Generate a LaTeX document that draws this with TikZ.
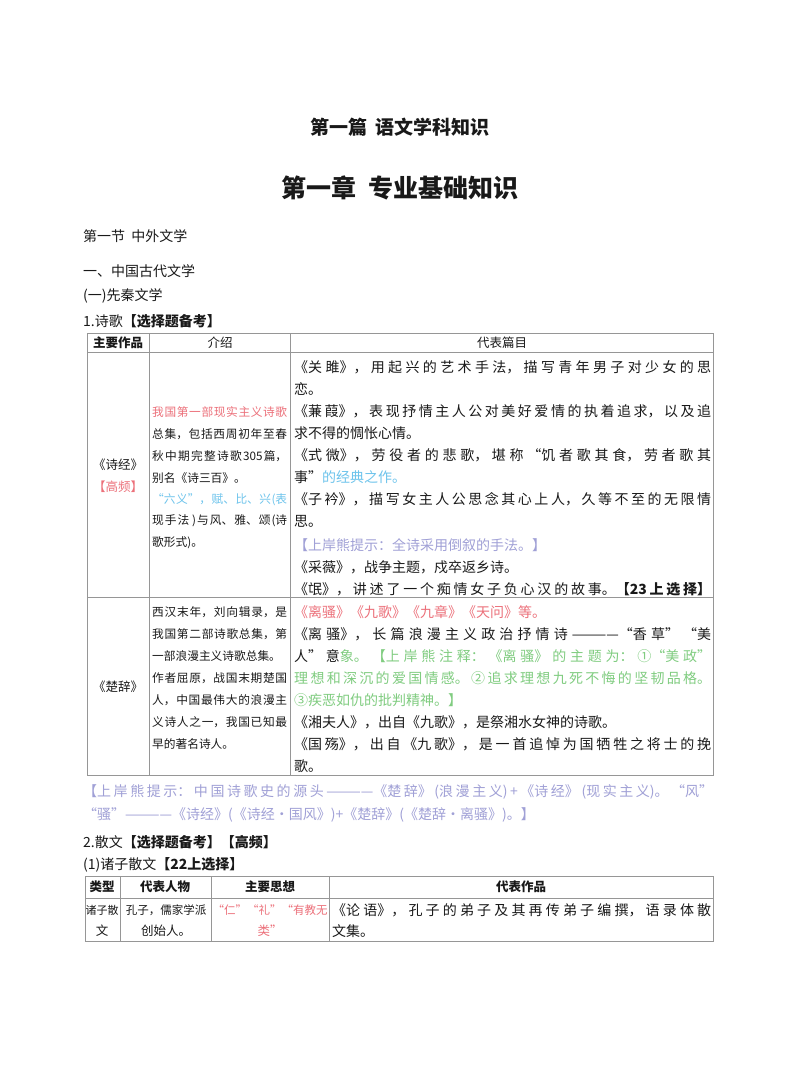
\documentclass[tikz,border=0pt]{standalone}
\usepackage{fontspec}
\newfontfamily\cjk{Noto Sans CJK SC}
\definecolor{tred}{RGB}{236,112,122}
\definecolor{tblue}{RGB}{110,196,236}
\definecolor{tlav}{RGB}{160,160,214}
\definecolor{tgreen}{RGB}{128,204,128}
\definecolor{ink}{RGB}{25,25,25}
\definecolor{rule}{RGB}{150,150,150}
\newcommand\JL[2]{\parbox{#1}{\XeTeXlinebreaklocale "zh"\XeTeXlinebreakskip=0pt plus 20pt\parfillskip=0pt\hbadness=10000\noindent #2}}
\begin{document}
\begin{tikzpicture}[x=1pt,y=-1pt,
  t/.style={anchor=west,inner sep=0,text=ink,font=\cjk\fontsize{14}{14}\selectfont},
  s/.style={anchor=west,inner sep=0,text=ink,font=\cjk\fontsize{11.7}{13}\selectfont},
  c/.style={anchor=center,inner sep=0,text=ink,font=\cjk\fontsize{12.5}{14}\selectfont},
  hd/.style={c,font=\cjk\bfseries\fontsize{12.5}{14}\selectfont},
  ln/.style={draw=rule,line width=0.6pt}]
\useasboundingbox (0,0) rectangle (800,1078);
\fill[white] (0,0) rectangle (800,1078);
\node[c,font=\cjk\bfseries\fontsize{19}{20}\selectfont] (t1) at (400,127) {第一篇\ \ 语文学科知识};
\node[c,font=\cjk\bfseries\fontsize{25}{26}\selectfont] (t2) at (400,188) {第一章\ \ 专业基础知识};
\node[t] (h1) at (83,236) {第一节\ \ 中外文学};
\node[t] (h2) at (83,271) {一、中国古代文学};
\node[t] (h3) at (83,296) {(一)先秦文学};
\node[t] (h4) at (83,321) {1.诗歌\textbf{【选择题备考】}};
% table 1
\draw[ln] (87,333) rectangle (713,775);
\draw[ln] (87,352) -- (713,352);
\draw[ln] (87,597) -- (713,597);
\draw[ln] (149,333) -- (149,775);
\draw[ln] (290,333) -- (290,775);
\node[hd] (a0) at (118,343) {主要作品};
\node[c] (a1) at (220,343) {介绍};
\node[c] (a2) at (502,343) {代表篇目};
\node[c] (r1a) at (118,465) {《诗经》};
\node[c,text=tred] (r1b) at (118,487) {【高频】};
\node[s] (b1) at (152,412) {\JL{135pt}{\textcolor{tred}{我国第一部现实主义诗歌}}};
\node[s] (b2) at (152,434) {\JL{135pt}{总集，包括西周初年至春}};
\node[s] (b3) at (152,456) {\JL{135pt}{秋中期完整诗歌305篇，}};
\node[s] (b4) at (152,478) {别名《诗三百》。};
\node[s] (b5) at (152,500) {\JL{135pt}{\textcolor{tblue}{“六义”，赋、比、兴(表}}};
\node[s] (b6) at (152,521) {\JL{135pt}{现手法 )与风、雅、颂(诗}};
\node[s] (b7) at (152,543) {歌形式)。};
\node[t] (c1) at (294,367) {\JL{417pt}{《关雎》，用起兴的艺术手法，描写青年男子对少女的思}};
\node[t] (c2) at (294,389) {恋。};
\node[t] (c3) at (294,411) {\JL{417pt}{《蒹葭》，表现抒情主人公对美好爱情的执着追求，以及追}};
\node[t] (c4) at (294,433) {求不得的惆怅心情。};
\node[t] (c5) at (294,455) {\JL{417pt}{《式微》，劳役者的悲歌，堪称“饥者歌其食，劳者歌其}};
\node[t] (c6) at (294,477) {事”\textcolor{tblue}{的经典之作。}};
\node[t] (c7) at (294,499) {\JL{417pt}{《子衿》，描写女主人公思念其心上人，久等不至的无限情}};
\node[t] (c8) at (294,521) {思。};
\node[t,text=tlav] (c9) at (294,545) {【上岸熊提示：全诗采用倒叙的手法。】};
\node[t] (c10) at (294,567) {《采薇》，战争主题，戍卒返乡诗。};
\node[t] (c11) at (294,589) {\JL{417pt}{《氓》，讲述了一个痴情女子负心汉的故事。\textbf{【23上选择】}}};
\node[c] (r2a) at (118,687) {《楚辞》};
\node[s] (d1) at (152,612) {\JL{135pt}{西汉末年，刘向辑录，是}};
\node[s] (d2) at (152,634) {\JL{135pt}{我国第二部诗歌总集，第}};
\node[s] (d3) at (152,656) {一部浪漫主义诗歌总集。};
\node[s] (d4) at (152,678) {\JL{135pt}{作者屈原，战国末期楚国}};
\node[s] (d5) at (152,700) {\JL{135pt}{人，中国最伟大的浪漫主}};
\node[s] (d6) at (152,722) {\JL{135pt}{义诗人之一，我国已知最}};
\node[s] (d7) at (152,744) {早的著名诗人。};
\node[t,text=tred] (e1) at (294,612) {《离骚》《九歌》《九章》《天问》等。};
\node[t] (e2) at (294,634) {\JL{417pt}{《离骚》，长篇浪漫主义政治抒情诗————“香草”“美}};
\node[t] (e3) at (294,656) {\JL{417pt}{人”意\textcolor{tgreen}{象。【上岸熊注释：《离骚》的主题为：①“美政”}}};
\node[t] (e4) at (294,678) {\JL{417pt}{\textcolor{tgreen}{理想和深沉的爱国情感。②追求理想九死不悔的坚韧品格。}}};
\node[t,text=tgreen] (e5) at (294,700) {③疾恶如仇的批判精神。】};
\node[t] (e6) at (294,722) {《湘夫人》，出自《九歌》，是祭湘水女神的诗歌。};
\node[t] (e7) at (294,744) {\JL{417pt}{《国殇》，出自《九歌》，是一首追悼为国牺牲之将士的挽}};
\node[t] (e8) at (294,766) {歌。};
% tip
\node[t] (f1) at (83,792) {\JL{630pt}{\textcolor{tlav}{【上岸熊提示：中国诗歌史的源头————《楚辞》(浪漫主义)+《诗经》(现实主义)。“风”}}};
\node[t,text=tlav] (f2) at (83,815) {“骚”————《诗经》(《诗经·国风》)+《楚辞》(《楚辞·离骚》)。】};
\node[t] (g1) at (83,842) {2.散文\textbf{【选择题备考】【高频】}};
\node[t] (g2) at (83,865) {(1)诸子散文\textbf{【22上选择】}};
% table 2
\draw[ln] (85,876) rectangle (713,941);
\draw[ln] (85,898) -- (713,898);
\draw[ln] (120,876) -- (120,941);
\draw[ln] (211,876) -- (211,941);
\draw[ln] (329,876) -- (329,941);
\node[hd] (k0) at (102,887) {类型};
\node[hd] (k1) at (165,887) {代表人物};
\node[hd] (k2) at (270,887) {主要思想};
\node[hd] (k3) at (521,887) {代表作品};
\node[c,font=\cjk\fontsize{11}{12}\selectfont] (m1) at (102,910) {诸子散};
\node[c] (m2) at (102,931) {文};
\node[c,font=\cjk\fontsize{11.5}{12}\selectfont] (n1) at (166,910) {孔子，儒家学派};
\node[c] (n2) at (166,931) {创始人。};
\node[c,text=tred,font=\cjk\fontsize{11.5}{12}\selectfont] (o1) at (270,910) {“仁”“礼”“有教无};
\node[c,text=tred] (o2) at (270,931) {类”};
\node[t] (p1) at (332,910) {\JL{379pt}{《论语》，孔子的弟子及其再传弟子编撰，语录体散}};
\node[t] (p2) at (332,931) {文集。};
\end{tikzpicture}
\end{document}
